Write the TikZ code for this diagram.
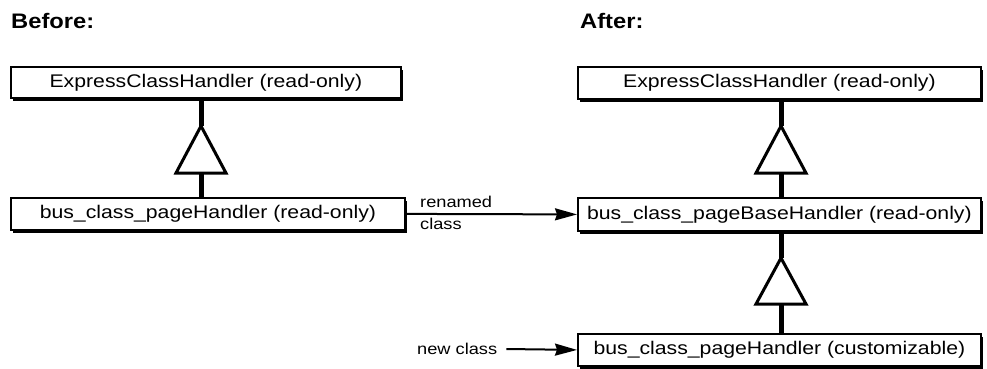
\documentclass[tikz,border=0pt]{standalone}
\usepackage{fontspec}
\setmainfont[FakeStretch=1.16]{Liberation Sans}
\newfontfamily\headfont[FakeStretch=1.13]{Liberation Sans}
\usetikzlibrary{arrows.meta,shadows}
\begin{document}
\begin{tikzpicture}[x=1pt,y=-1pt,
  classbox/.style={draw=black, line width=1.8pt, fill=white, inner sep=0pt,
    anchor=north west, font=\fontsize{18.3}{20}\selectfont,
    drop shadow={shadow xshift=2pt, shadow yshift=-3pt, fill=black, opacity=1}},
  heading/.style={anchor=base west, inner sep=0pt, font=\headfont\bfseries\fontsize{21}{24}\selectfont},
  lbl/.style={inner sep=0pt, font=\fontsize{15.7}{18}\selectfont},
  stem/.style={line width=5pt},
  gentri/.style={line width=3pt, fill=white, line join=miter},
  arr/.style={line width=2pt, -{Stealth[length=22pt, width=12pt, inset=2pt]}}
]
\useasboundingbox (0,0) rectangle (987,368);

% headings
\node[heading] (hb) at (11,28) {Before:};
\node[heading] (ha) at (580,28) {After:};

% class boxes, left column
\node[classbox, minimum width=390pt, minimum height=31pt] (A1) at (10,66) {ExpressClassHandler (read-only)};
\node[classbox, minimum width=394pt, minimum height=32pt] (A2) at (10,197) {bus\_class\_pageHandler (read-only)};

% class boxes, right column
\node[classbox, minimum width=403pt, minimum height=32pt] (B1) at (577,66) {ExpressClassHandler (read-only)};
\node[classbox, minimum width=403pt, minimum height=33pt] (B2) at (577,197) {bus\_class\_pageBaseHandler (read-only)};
\node[classbox, minimum width=403pt, minimum height=32pt] (B3) at (577,333) {bus\_class\_pageHandler (customizable)};

% generalisation, left
\coordinate (p1) at (201,126);
\coordinate (q1) at (201,173);
\draw[stem] (A1.south -| p1) -- (p1);
\draw[stem] (A2.north -| q1) -- (q1);
\draw[gentri] (p1) -- ++(-25,47) -- ++(50,0) -- cycle;

% generalisation, right (upper)
\coordinate (p2) at (781,126);
\coordinate (q2) at (781,173);
\draw[stem] (B1.south -| p2) -- (p2);
\draw[stem] (B2.north -| q2) -- (q2);
\draw[gentri] (p2) -- ++(-25,47) -- ++(50,0) -- cycle;

% generalisation, right (lower)
\coordinate (p3) at (781,258);
\coordinate (q3) at (781,304);
\draw[stem] (B2.south -| p3) -- (p3);
\draw[stem] (B3.north -| q3) -- (q3);
\draw[gentri] (p3) -- ++(-25,46) -- ++(50,0) -- cycle;

% renamed class
\draw[arr] (A2.east) -- (B2.west);
\node[lbl, anchor=base west] (rn) at (420,207) {renamed};
\node[lbl, anchor=base west] (rc) at (420,229) {class};

% new class
\node[lbl, anchor=west] (nc) at (417,349) {new class};
\draw[arr] ([xshift=9pt]nc.east) -- (B3.west);
\end{tikzpicture}
\end{document}
